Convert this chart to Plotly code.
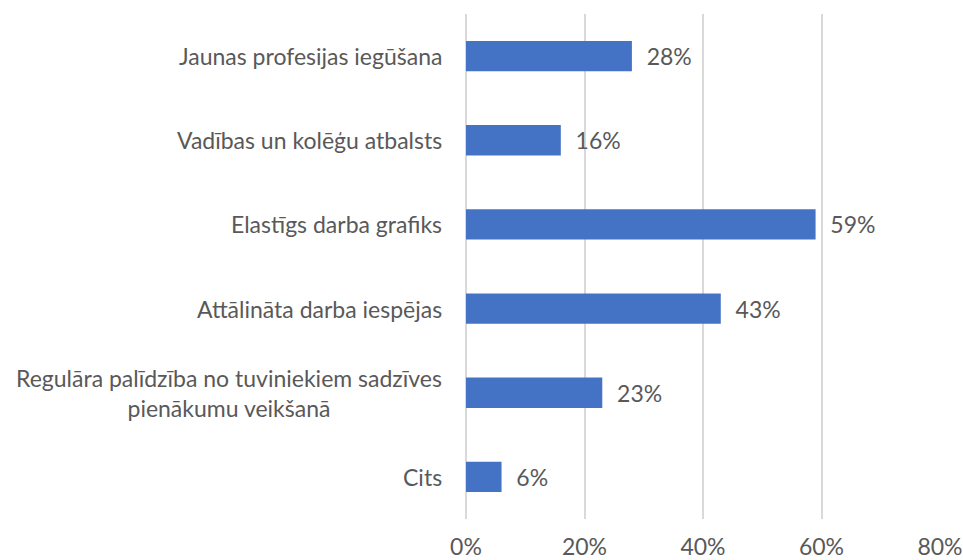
import plotly.graph_objects as go

categories = [
    "Jaunas profesijas iegūšana",
    "Vadības un kolēģu atbalsts",
    "Elastīgs darba grafiks",
    "Attālināta darba iespējas",
    "Regulāra palīdzība no tuviniekiem sadzīves<br>pienākumu veikšanā",
    "Cits",
]
values = [0.28, 0.16, 0.59, 0.43, 0.23, 0.06]
x_ticks = [0, 0.2, 0.4, 0.6, 0.8]
x_tick_labels = ["0%", "20%", "40%", "60%", "80%"]

FONT = "Lato, Open Sans, sans-serif"
TXT = "#595959"
FS = 23

fig = go.Figure()
fig.add_trace(go.Bar(
    y=categories,
    x=values,
    orientation="h",
    marker=dict(color="#4472C4", line=dict(width=0)),
    width=0.36,
    text=[f"{round(v*100)}%" for v in values],
    texttemplate="  %{text}",
    textposition="outside",
    textfont=dict(family=FONT, size=FS, color=TXT),
    cliponaxis=False,
    hoverinfo="skip",
))

for c in categories:
    fig.add_annotation(
        x=0, xref="paper", y=c, yref="y",
        text=c, showarrow=False, xanchor="right", align="center",
        xshift=-22, font=dict(family=FONT, size=FS, color=TXT),
    )

fig.update_layout(
    width=963, height=560,
    margin=dict(l=466, r=23, t=14, b=41, autoexpand=False),
    paper_bgcolor="white", plot_bgcolor="white",
    showlegend=False,
    bargap=0.64,
    font=dict(family=FONT, size=FS, color=TXT),
)
fig.update_xaxes(
    range=[0, 0.8],
    tickvals=x_ticks, ticktext=x_tick_labels,
    showgrid=True, gridcolor="#d9d9d9", gridwidth=2,
    zeroline=True, zerolinecolor="#d9d9d9", zerolinewidth=2,
    showline=False, automargin=False,
    ticklabelstandoff=12,
    tickfont=dict(family=FONT, size=FS, color=TXT),
)
fig.update_yaxes(
    autorange="reversed", automargin=False,
    showticklabels=False, showgrid=False, zeroline=False, showline=False,
)

fig.write_html(
    "out.html",
    config={"displayModeBar": False},
    post_script="document.body.style.margin='0';document.body.style.overflow='hidden';",
)
